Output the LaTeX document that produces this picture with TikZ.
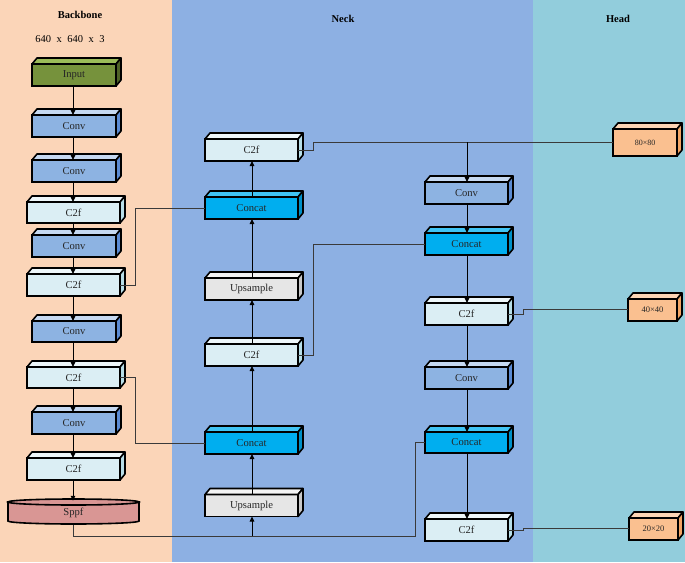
\documentclass[tikz,border=0pt]{standalone}
\usepackage{fontspec}
\setmainfont{Liberation Serif}
\usetikzlibrary{arrows.meta}
\definecolor{bbbg}{HTML}{FBD5B8}
\definecolor{nkbg}{HTML}{8DB0E3}
\definecolor{hdbg}{HTML}{92CDDC}
\definecolor{inF}{HTML}{76923C}
\definecolor{inT}{HTML}{9BBB59}
\definecolor{inS}{HTML}{4F6228}
\definecolor{cvF}{HTML}{8DB3E2}
\definecolor{cvT}{HTML}{C6D9F1}
\definecolor{cvS}{HTML}{5B8BD3}
\definecolor{cfF}{HTML}{DBEEF4}
\definecolor{cfT}{HTML}{EEF7FA}
\definecolor{cfS}{HTML}{B7DEE8}
\definecolor{ccF}{HTML}{00AEEF}
\definecolor{ccT}{HTML}{40C4F4}
\definecolor{ccS}{HTML}{0090C8}
\definecolor{upF}{HTML}{E6E6E6}
\definecolor{upT}{HTML}{F4F4F4}
\definecolor{upS}{HTML}{C8C8C8}
\definecolor{hbF}{HTML}{FAC090}
\definecolor{hbT}{HTML}{FCD5B5}
\definecolor{hbS}{HTML}{F2A565}
\definecolor{spF}{HTML}{D99694}
\definecolor{lnC}{HTML}{3A3A3A}
\tikzset{
  cubefront/.style={draw=black, line width=1.6pt, rectangle, inner sep=0pt, outer sep=0pt, font=\fontsize{10.6}{12}\selectfont, text=black!85},
  cubeedge/.style={draw=black, line width=1.6pt, line join=round},
  flow/.style={draw=black, line width=1pt, -{Triangle[length=5pt,width=4.5pt]}},
  link/.style={draw=lnC, line width=0.7pt},
  title/.style={font=\bfseries\fontsize{10.5}{12}\selectfont},
}
\newcommand\cuboid[7]{%
  \node[cubefront, fill=#6F, minimum width=#4pt, minimum height=#5pt] (#1) at (#2,#3) {#7};
  \draw[cubeedge, fill=#6T] (#1.north west) -- ++(5pt,6pt) -- ([shift={(5pt,6pt)}]#1.north east) -- (#1.north east) -- cycle;
  \draw[cubeedge, fill=#6S] (#1.north east) -- ++(5pt,6pt) -- ([shift={(5pt,6pt)}]#1.south east) -- (#1.south east) -- cycle;
}
\begin{document}
\begin{tikzpicture}[x=1pt,y=-1pt]
\useasboundingbox (0,0) rectangle (685,562);
\fill[bbbg] (0,0) rectangle (172,562);
\fill[nkbg] (172,0) rectangle (533,562);
\fill[hdbg] (533,0) rectangle (685,562);
\node[title] (tbb) at (80,15) {Backbone};
\node[title] (tnk) at (343,19) {Neck};
\node[title] (thd) at (618,19) {Head};
\node[font=\fontsize{10.5}{12}\selectfont] (res) at (70,39) {640\hspace{5.5pt}x\hspace{5.5pt}640\hspace{5.5pt}x\hspace{5.5pt}3};
% backbone
\cuboid{input}{74}{75}{84}{22}{in}{Input}
\cuboid{conva}{74}{126}{84}{22}{cv}{Conv}
\cuboid{convb}{74}{171}{84}{22}{cv}{Conv}
\cuboid{cfa}{73.5}{212.5}{93}{21}{cf}{C2f}
\cuboid{convc}{74}{246}{84}{22}{cv}{Conv}
\cuboid{cfb}{73.5}{285}{93}{22}{cf}{C2f}
\cuboid{convd}{74}{331.5}{84}{21}{cv}{Conv}
\cuboid{cfc}{73.5}{377.5}{93}{21}{cf}{C2f}
\cuboid{conve}{74}{423}{84}{22}{cv}{Conv}
\cuboid{cfd}{73.5}{469}{93}{22}{cf}{C2f}
% sppf cylinder
\draw[line width=1.6pt, fill=spF] (8,502) -- (8,521) arc[start angle=180,end angle=360,x radius=65.5pt,y radius=3pt] -- (139,502) -- cycle;
\draw[line width=1.6pt, fill=spF] (73.5,502) ellipse[x radius=65.5pt,y radius=3pt];
\node[inner sep=0pt, minimum width=131pt, minimum height=24pt, font=\fontsize{10.6}{12}\selectfont, text=black!85] (sppf) at (73.5,513) {Sppf};
% neck
\cuboid{nfa}{251.5}{150}{93}{22}{cf}{C2f}
\cuboid{nca}{251.5}{208}{93}{22}{cc}{Concat}
\cuboid{nua}{251.5}{289}{93}{22}{up}{Upsample}
\cuboid{nfb}{251.5}{355}{93}{22}{cf}{C2f}
\cuboid{ncb}{251.5}{443}{93}{22}{cc}{Concat}
\cuboid{nub}{251.5}{505.5}{93}{22}{up}{Upsample}
% right column
\cuboid{hva}{466.5}{193}{83}{22}{cv}{Conv}
\cuboid{hca}{466.5}{244}{83}{22}{cc}{Concat}
\cuboid{hfa}{466.5}{314}{83}{22}{cf}{C2f}
\cuboid{hvb}{466.5}{378}{83}{22}{cv}{Conv}
\cuboid{hcb}{466.5}{442.5}{83}{21}{cc}{Concat}
\cuboid{hfb}{466.5}{530}{83}{22}{cf}{C2f}
% head outputs
\cuboid{oa}{645}{142.5}{64}{27}{hb}{\fontsize{8}{10}\selectfont 80×80}
\cuboid{ob}{652.5}{310}{49}{22}{hb}{\fontsize{8.5}{10}\selectfont 40×40}
\cuboid{oc}{653.5}{529}{49}{22}{hb}{\fontsize{8.5}{10}\selectfont 20×20}
% backbone flow
\foreach \a/\b in {input/conva,conva/convb,convb/cfa,cfa/convc,convc/cfb,cfb/convd,convd/cfc,cfc/conve,conve/cfd}
  \draw[flow] (\a.south -| 73,0) -- (\b.north -| 73,0);
\draw[flow] (cfd.south -| 73,0) -- (sppf.north -| 73,0);
% skip links from backbone
\coordinate (ka) at (135,285);
\draw[link] (cfb.east) -- (ka) |- (nca.west);
\coordinate (kb) at (135,377);
\draw[link] (cfc.east |- 0,377) -- (kb) |- (ncb.west);
\coordinate (sa) at (73,536);
\coordinate (sb) at (415,536);
\coordinate (sj) at (252,536);
\draw[link] (sppf.south -| 73,0) -- (sa) -- (sb) |- (hcb.west);
\draw[flow] (sj) -- (nub.south -| 252,0);
% neck flow (upward)
\draw[flow] (nub.north -| 252,0) -- (ncb.south -| 252,0);
\draw[flow] (ncb.north -| 252,0) -- (nfb.south -| 252,0);
\draw[flow] (nfb.north -| 252,0) -- (nua.south -| 252,0);
\draw[flow] (nua.north -| 252,0) -- (nca.south -| 252,0);
\draw[flow] (nca.north -| 252,0) -- (nfa.south -| 252,0);
% neck to head links
\coordinate (ta) at (313,150);
\coordinate (tb) at (313,142);
\coordinate (tj) at (467,142);
\draw[link] (nfa.east) -- (ta) -- (tb) -- (oa.west |- tb);
\draw[flow] (tj) -- (hva.north -| 467,0);
\coordinate (ua) at (313,355);
\draw[link] (nfb.east) -- (ua) |- (hca.west);
% right column flow
\foreach \a/\b in {hva/hca,hca/hfa,hfa/hvb,hvb/hcb,hcb/hfb}
  \draw[flow] (\a.south -| 467,0) -- (\b.north -| 467,0);
% outputs
\coordinate (va) at (523,314);
\coordinate (vb) at (523,309);
\draw[link] (hfa.east) -- (va) -- (vb) -- (ob.west |- vb);
\coordinate (wa) at (523,530);
\coordinate (wb) at (523,528.5);
\draw[link] (hfb.east) -- (wa) -- (wb) -- (oc.west |- wb);
\end{tikzpicture}
\end{document}
